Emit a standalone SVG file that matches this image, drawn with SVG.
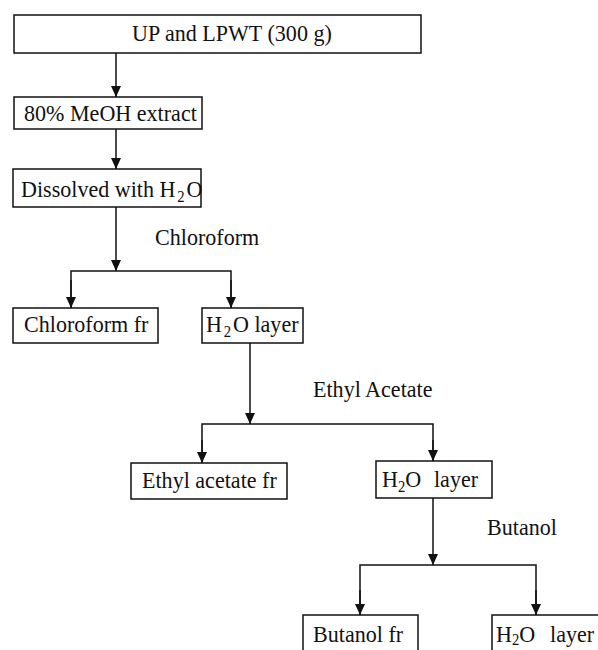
<svg xmlns="http://www.w3.org/2000/svg" width="598" height="650" viewBox="0 0 598 650">
<style>
.box{fill:#fff;stroke:#111;stroke-width:1.5}
.t{font-family:"Liberation Serif","Times New Roman",serif;font-size:24px;fill:#111}
.s{font-size:16px}
.c{fill:none;stroke:#111;stroke-width:1.5}
</style>
<defs>
<marker id="a" markerUnits="userSpaceOnUse" markerWidth="12" markerHeight="10" refX="11" refY="5" orient="auto" viewBox="0 0 12 10">
<path d="M0,0 L11,5 L0,10 Z" fill="#111"/>
</marker>
</defs>
<rect width="598" height="650" fill="#fff"/>
<g id="connectors">
<line class="c" x1="116" y1="53" x2="116" y2="97" marker-end="url(#a)"/>
<line class="c" x1="116" y1="129" x2="116" y2="169" marker-end="url(#a)"/>
<line class="c" x1="116" y1="207" x2="116" y2="271" marker-end="url(#a)"/>
<polyline class="c" points="71,308 71,271 231,271 231,308"/>
<line class="c" x1="71" y1="280" x2="71" y2="308" marker-end="url(#a)"/>
<line class="c" x1="231" y1="280" x2="231" y2="308" marker-end="url(#a)"/>
<line class="c" x1="250" y1="343" x2="250" y2="424" marker-end="url(#a)"/>
<polyline class="c" points="202,462 202,424 433,424 433,461"/>
<line class="c" x1="202" y1="440" x2="202" y2="463" marker-end="url(#a)"/>
<line class="c" x1="433" y1="440" x2="433" y2="461" marker-end="url(#a)"/>
<line class="c" x1="433" y1="498" x2="433" y2="565" marker-end="url(#a)"/>
<polyline class="c" points="360,615 360,565 536,565 536,615"/>
<line class="c" x1="360" y1="590" x2="360" y2="615" marker-end="url(#a)"/>
<line class="c" x1="536" y1="590" x2="536" y2="615" marker-end="url(#a)"/>
</g>
<g id="labels">
<text class="t" transform="translate(155 245) scale(0.92 1)">Chloroform</text>
<text class="t" transform="translate(313 397) scale(0.92 1)">Ethyl Acetate</text>
<text class="t" transform="translate(487 535) scale(0.92 1)">Butanol</text>
</g>
<g id="n1"><rect class="box" x="14" y="15" width="407" height="38"/><text class="t" transform="translate(132 41) scale(0.92 1)">UP and LPWT (300 g)</text></g>
<g id="n2"><rect class="box" x="14" y="97" width="188" height="32"/><text class="t" transform="translate(24 121) scale(0.92 1)">80% MeOH extract</text></g>
<g id="n3"><rect class="box" x="13" y="169" width="188" height="38"/><text class="t" transform="translate(21 197) scale(0.92 1)">Dissolved with H<tspan class="s" dx="2" dy="5">2</tspan><tspan dx="2" dy="-5">O</tspan></text></g>
<g id="n4"><rect class="box" x="13" y="308" width="145" height="35"/><text class="t" transform="translate(24 332) scale(0.92 1)">Chloroform fr</text></g>
<g id="n5"><rect class="box" x="202" y="308" width="101" height="35"/><text class="t" transform="translate(206 332) scale(0.92 1)">H<tspan class="s" dx="2" dy="5">2</tspan><tspan dx="2" dy="-5">O layer</tspan></text></g>
<g id="n6"><rect class="box" x="131" y="463" width="156" height="36"/><text class="t" transform="translate(142 488) scale(0.92 1)">Ethyl acetate fr</text></g>
<g id="n7"><rect class="box" x="376" y="461" width="116" height="37"/><text class="t" transform="translate(382 487) scale(0.92 1)">H<tspan class="s" dy="5">2</tspan><tspan dy="-5">O</tspan><tspan x="56.5">layer</tspan></text></g>
<g id="n8"><rect class="box" x="303" y="615" width="115" height="40"/><text class="t" transform="translate(313 642) scale(0.92 1)">Butanol fr</text></g>
<g id="n9"><rect class="box" x="492" y="615" width="110" height="40"/><text class="t" transform="translate(496 642) scale(0.92 1)">H<tspan class="s" dy="3">2</tspan><tspan dy="-3">O</tspan><tspan x="58.7">layer</tspan></text></g>
</svg>
